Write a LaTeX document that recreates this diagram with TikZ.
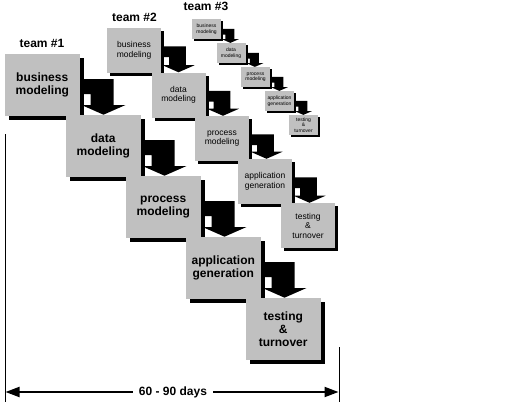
\documentclass[tikz,border=0pt]{standalone}
\usepackage{fontspec}
\setmainfont{Liberation Sans}
\usetikzlibrary{calc,shadows,arrows.meta}
\definecolor{boxgray}{RGB}{192,192,192}

\newcommand\stagearrow[3]{%
  \coordinate (#1N) at (#1.north east |- #2.north);
  \fill[black] ($(#1.north east)+(2*#3,25*#3)$) -- ($(#1.north east)+(34*#3,25*#3)$)
    -- ($(#1N)+(34*#3,-10*#3)$) -- ($(#1N)+(46*#3,-10*#3)$)
    -- ($(#1N)+(24*#3,-0.3*#3)$) -- ($(#1N)+(2*#3,-10*#3)$)
    -- ($(#1N)+(11*#3,-10*#3)$) -- ($(#1.north east)+(11*#3,40*#3)$)
    -- ($(#1.north east)+(2*#3,40*#3)$) -- cycle;}

\begin{document}
\begin{tikzpicture}[x=1pt,y=-1pt,
  stagebox/.style={fill=boxgray, inner sep=0pt, outer sep=0pt, align=center, anchor=north west},
  teamone/.style={stagebox, minimum width=74.5pt, minimum height=62pt,
    font=\fontsize{12}{13}\selectfont\bfseries,
    drop shadow={shadow xshift=4pt, shadow yshift=-4pt, fill=black, opacity=1}},
  teamtwo/.style={stagebox, minimum width=54pt, minimum height=45pt,
    font=\fontsize{8.5}{9.5}\selectfont,
    drop shadow={shadow xshift=3pt, shadow yshift=-3pt, fill=black, opacity=1}},
  teamthree/.style={stagebox, minimum width=29pt, minimum height=20pt,
    font=\fontsize{5}{5.5}\selectfont,
    drop shadow={shadow xshift=2pt, shadow yshift=-2pt, fill=black, opacity=1}},
  teamlabel/.style={font=\fontsize{12}{13}\selectfont\bfseries, inner sep=0pt},
  dimline/.style={line width=1pt},
  dimarrow/.style={line width=2pt, -{Triangle[length=14pt, width=10pt]}}]
\useasboundingbox (0,0) rectangle (512,407);

% team labels
\node[teamlabel] (lab1) at (42,43) {team \#1};
\node[teamlabel] (lab2) at (134.5,17.5) {team \#2};
\node[teamlabel] (lab3) at (206,6) {team \#3};

% team 3
\node[teamthree] (c1) at (192,19) {business\\modeling};
\node[teamthree] (c2) at (216.5,43) {data\\modeling};
\node[teamthree] (c3) at (241,67) {process\\modeling};
\node[teamthree] (c4) at (265,91) {application\\generation};
\node[teamthree] (c5) at (289,115) {testing\\\&\\turnover};
\stagearrow{c1}{c2}{0.39}
\stagearrow{c2}{c3}{0.39}
\stagearrow{c3}{c4}{0.39}
\stagearrow{c4}{c5}{0.39}

% team 2
\node[teamtwo] (b1) at (107,28) {business\\modeling};
\node[teamtwo] (b2) at (151.5,72.5) {data\\modeling};
\node[teamtwo] (b3) at (195,116) {process\\modeling};
\node[teamtwo] (b4) at (238,159) {application\\generation};
\node[teamtwo] (b5) at (281,203) {testing\\\&\\turnover};
\stagearrow{b1}{b2}{0.73}
\stagearrow{b2}{b3}{0.73}
\stagearrow{b3}{b4}{0.73}
\stagearrow{b4}{b5}{0.73}

% team 1
\node[teamone] (a1) at (5,54) {business\\modeling};
\node[teamone] (a2) at (66,115) {data\\modeling};
\node[teamone] (a3) at (126,176) {process\\modeling};
\node[teamone] (a4) at (186,237) {application\\generation};
\node[teamone] (a5) at (246,298) {testing\\\&\\turnover};
\stagearrow{a1}{a2}{1}
\stagearrow{a2}{a3}{1}
\stagearrow{a3}{a4}{1}
\stagearrow{a4}{a5}{1}

% duration
\coordinate (lt) at (5,134);
\coordinate (lb) at (5,402);
\coordinate (rt) at (339,347);
\coordinate (rb) at (339,402);
\coordinate (le) at (5.5,392);
\coordinate (re) at (338.5,392);
\draw[dimline] (lt) -- (lb);
\draw[dimline] (rt) -- (rb);
\node[teamlabel, inner xsep=6pt] (days) at (173,392) {60 - 90 days};
\draw[dimarrow] (days.west) -- (le);
\draw[dimarrow] (days.east) -- (re);
\end{tikzpicture}
\end{document}
